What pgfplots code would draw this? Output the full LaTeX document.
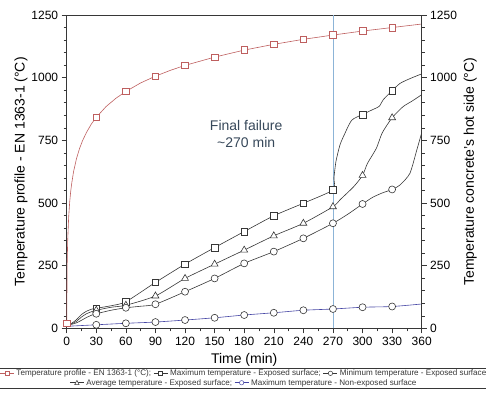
\documentclass[border=0pt]{standalone}
\usepackage{pgfplots}
\pgfplotsset{compat=1.18}
\usepackage{fontspec}
\setmainfont{Liberation Sans}
\definecolor{firered}{RGB}{190,95,95}
\definecolor{darkln}{RGB}{55,55,55}
\definecolor{blueln}{RGB}{70,70,165}
\definecolor{vline}{RGB}{140,180,215}
\definecolor{txtc}{RGB}{55,72,90}
\newcommand{\legsq}[1]{\tikz[baseline=-0.6ex]{\draw[#1,line width=0.5pt] (0,0)--(14pt,0);\draw[#1,fill=white,line width=0.5pt] (5pt,-2pt) rectangle (9pt,2pt);}}
\newcommand{\legci}[1]{\tikz[baseline=-0.6ex]{\draw[#1,line width=0.5pt] (0,0)--(14pt,0);\draw[#1,fill=white,line width=0.5pt] (7pt,0) circle (2.2pt);}}
\newcommand{\legtr}[1]{\tikz[baseline=-0.6ex]{\draw[#1,line width=0.5pt] (0,0)--(14pt,0);\draw[#1,fill=white,line width=0.5pt] (4.8pt,-1.8pt)--(9.2pt,-1.8pt)--(7pt,2.4pt)--cycle;}}
\begin{document}
\begin{tikzpicture}
\useasboundingbox (0,0) rectangle (486pt,394pt);
\begin{axis}[at={(66.7pt,65.7pt)}, anchor=south west, scale only axis,
  width=355pt, height=313.3pt,
  xmin=0, xmax=360, ymin=0, ymax=1250,
  xtick={0,30,...,360}, ytick={0,250,...,1250},
  minor x tick num=1, minor y tick num=4,
  tick align=outside, ytick pos=left, xtick pos=bottom,
  major tick length=5pt, minor tick length=3pt,
  tick style={darkln, line width=0.5pt},
  axis line style={darkln, line width=0.6pt},
  tick label style={font=\fontsize{12}{14}\selectfont},
  /pgf/number format/assume math mode=true,
  /pgf/number format/set thousands separator={},
  scaled ticks=false,
  label style={font=\fontsize{14}{16}\selectfont},
  xlabel={Time (min)}, ylabel={Temperature profile - EN 1363-1 (°C)},
  xlabel style={yshift=-1pt},
  ylabel style={yshift=-3pt},
  every axis plot/.append style={line width=0.6pt},
]
% vertical failure line
\addplot[vline, line width=0.7pt] coordinates {(270,0) (270,1250)};
% fire curve
\addplot[firered, no marks] coordinates {
(0,20)(0.5,261)(1,349)(2,444)(3,502)(4,544)(5,576)(7,626)(10,678)(13,717)(16,748)(20,781)(25,815)(30,842)(40,885)(50,918)(60,945)(75,979)(90,1006)(105,1029)(120,1049)(150,1082)(180,1110)(210,1133)(240,1153)(270,1170)(300,1186)(330,1200)(360,1214)};
\addplot[firered, only marks, mark=square*, mark size=3.3pt, mark options={fill=white, line width=0.6pt}] coordinates {
(0,20)(30,842)(60,945)(90,1006)(120,1049)(150,1082)(180,1110)(210,1133)(240,1153)(270,1170)(300,1186)(330,1200)};
% non-exposed max
\addplot[blueln, smooth, no marks] coordinates {
(0,8)(30,14)(60,20)(90,25)(120,33)(150,42)(180,53)(210,62)(240,72)(270,77)(300,84)(330,87)(360,97)};
\addplot[darkln, only marks, mark=*, mark size=3.5pt, mark options={fill=white, line width=0.6pt}] coordinates {
(30,14)(60,20)(90,25)(120,33)(150,42)(180,53)(210,62)(240,72)(270,77)(300,84)(330,87)};
% max exposed
\addplot[darkln, smooth, tension=0.4, no marks] coordinates {
(0,15)(5,20)(10,35)(15,55)(20,68)(25,76)(30,80)(45,90)(60,106)(90,183)(120,256)(150,322)(180,386)(210,449)(240,499)(270,552)(271,600)(273,665)(277,730)(281,768)(289,830)(300,853)(310,872)(317,886)(321,912)(330,948)(338,977)(348,996)(360,1015)};
\addplot[darkln, only marks, mark=square*, mark size=3.3pt, mark options={fill=white, line width=0.6pt}] coordinates {
(30,80)(60,106)(90,183)(120,256)(150,322)(180,386)(210,449)(240,499)(270,552)(300,853)(330,948)};
% average exposed
\addplot[darkln, smooth, tension=0.4, no marks] coordinates {
(0,15)(5,18)(10,28)(15,45)(20,58)(25,66)(30,72)(45,84)(60,92)(90,129)(120,199)(150,256)(180,312)(210,369)(240,419)(270,485)(277,512)(291,565)(300,610)(305,658)(314,718)(320,780)(330,840)(341,884)(350,906)(360,932)};
\addplot[darkln, only marks, mark=triangle*, mark size=4pt, mark options={fill=white, line width=0.6pt}] coordinates {
(30,72)(60,92)(90,129)(120,199)(150,256)(180,312)(210,369)(240,419)(270,485)(300,610)(330,840)};
% min exposed
\addplot[darkln, smooth, tension=0.4, no marks] coordinates {
(0,15)(5,16)(10,22)(15,32)(20,43)(25,52)(30,58)(45,72)(60,82)(75,88)(90,96)(120,146)(150,199)(180,259)(210,306)(240,359)(270,419)(285,455)(300,496)(310,522)(320,540)(330,554)(338,572)(348,618)(355,711)(360,780)};
\addplot[darkln, only marks, mark=*, mark size=3.5pt, mark options={fill=white, line width=0.6pt}] coordinates {
(30,58)(60,82)(90,96)(120,146)(150,199)(180,259)(210,306)(240,359)(270,419)(300,496)(330,554)};
\node[txtc, align=center, font=\fontsize{14}{16.7}\selectfont] at (axis cs:182,775) {Final failure\\\textasciitilde270 min};
\end{axis}
\begin{axis}[at={(66.7pt,65.7pt)}, anchor=south west, scale only axis,
  width=355pt, height=313.3pt,
  xmin=0, xmax=360, ymin=0, ymax=1250,
  axis x line=none, axis y line*=right,
  ytick={0,250,...,1250}, minor y tick num=4,
  tick align=outside,
  major tick length=5pt, minor tick length=3pt,
  tick style={darkln, line width=0.5pt},
  axis line style={darkln, line width=0.6pt},
  tick label style={font=\fontsize{12}{14}\selectfont},
  /pgf/number format/assume math mode=true,
  /pgf/number format/set thousands separator={},
  scaled ticks=false,
  label style={font=\fontsize{14}{16}\selectfont},
  ylabel={Temperature concrete's hot side (°C)},
]
\addplot[draw=none] coordinates {(0,0)};
\end{axis}
\node[draw=darkln, line width=0.5pt, align=center, font=\fontsize{8.1}{9.4}\selectfont, inner xsep=2pt, inner ysep=1.5pt, text=darkln] at (243pt,15.5pt)
{\legsq{firered} Temperature profile - EN 1363-1 (°C); \legsq{darkln} Maximum temperature - Exposed surface; \legci{darkln} Minimum temperature - Exposed surface\\
\legtr{darkln} Average temperature - Exposed surface; \legci{blueln} Maximum temperature - Non-exposed surface};
\end{tikzpicture}
\end{document}
